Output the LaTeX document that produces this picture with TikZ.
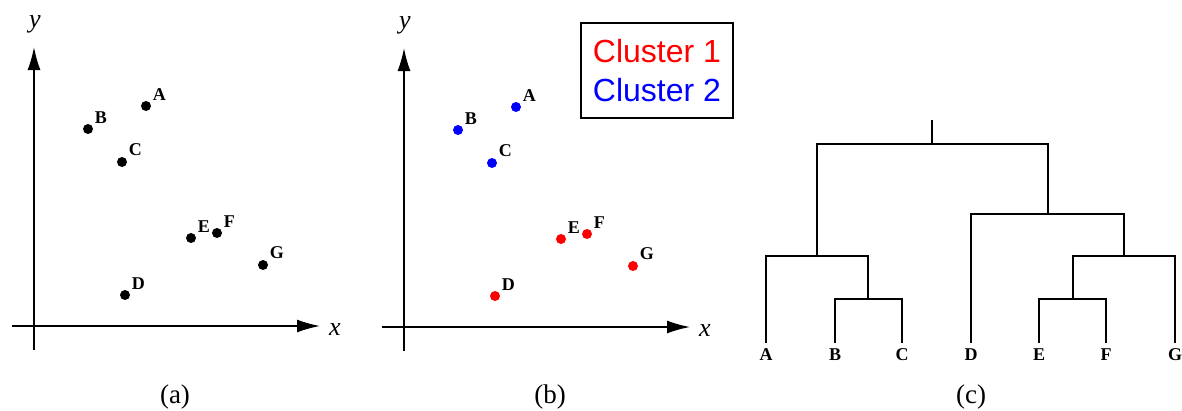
\documentclass[tikz,border=0pt]{standalone}
\usepackage{fontspec}
\setmainfont{Liberation Serif}
\newfontfamily\legendfont{Liberation Sans}
\usetikzlibrary{arrows.meta,positioning}
\newcommand{\pointlist}{A/146/106/blue,B/88/129/blue,C/122/162/blue,D/125/295/red,E/191/238/red,F/217/233/red,G/263/265/red}

\begin{document}
\begin{tikzpicture}[x=1pt,y=-1pt,>={Latex[length=23pt,width=13pt]}]
\tikzset{
  dot/.style={circle,fill=#1,inner sep=0pt,minimum size=10pt},
  ptlabel/.style={font=\fontsize{18}{18}\selectfont\bfseries,inner sep=1pt},
  axisline/.style={line width=1.6pt,->},
  axislabel/.style={font=\fontsize{26}{26}\selectfont\itshape,inner sep=0pt},
  caption/.style={font=\fontsize{27}{27}\selectfont,inner sep=0pt},
  leaf/.style={font=\fontsize{18}{18}\selectfont\bfseries,inner sep=1pt,anchor=north,text height=12pt},
  tree/.style={line width=1.6pt},
}
\useasboundingbox (0,0) rectangle (1182,410);

% (a) the raw points
\coordinate (ax0) at (12,326);
\coordinate (ax1) at (320,326);
\coordinate (ay0) at (34,350);
\coordinate (ay1) at (34,47);
\draw[axisline] (ax0) -- (ax1);
\draw[axisline] (ay0) -- (ay1);
\node[axislabel] (axl) at (335,330) {x};
\node[axislabel] (ayl) at (35,24) {y};
\foreach \n/\x/\y/\c in \pointlist {
  \node[dot=black] (a\n) at (\x,\y) {};
  \node[ptlabel,above right=1pt and 2pt of a\n] (a\n l) {\n};
}
\node[caption] (capa) at (175,397) {(a)};

% (b) the two clusters
\begin{scope}[xshift=370pt,yshift=-1pt]
\coordinate (bx0) at (12,326);
\coordinate (bx1) at (320,326);
\coordinate (by0) at (34,350);
\coordinate (by1) at (34,47);
\draw[axisline] (bx0) -- (bx1);
\draw[axisline] (by0) -- (by1);
\node[axislabel] (bxl) at (335,330) {x};
\node[axislabel] (byl) at (35,24) {y};
\foreach \n/\x/\y/\c in \pointlist {
  \node[dot=\c] (b\n) at (\x,\y) {};
  \node[ptlabel,above right=1pt and 2pt of b\n] (b\n l) {\n};
}
\end{scope}
\node[draw,line width=1.2pt,minimum width=152pt,minimum height=95pt,inner sep=0pt,
  align=left,font=\legendfont\fontsize{32}{39}\selectfont] (legend) at (657,70.5)
  {\textcolor{red}{Cluster 1}\\\textcolor{blue}{Cluster 2}};
\node[caption] (capb) at (550,397) {(b)};

% (c) the dendrogram
\foreach \n/\x in {A/766,B/835,C/902,D/971,E/1039,F/1106,G/1175} {
  \node[leaf] (l\n) at (\x,347) {\n};
  \coordinate (t\n) at ([yshift=4pt]l\n.north);
}
\coordinate (bc) at (868,299);
\coordinate (abc) at (817,256);
\coordinate (ef) at (1073,299);
\coordinate (efg) at (1124,256);
\coordinate (defg) at (1048,214);
\coordinate (root) at (932,144);
\coordinate (top) at (932,120);
\draw[tree] (tB) |- (bc) -| (tC);
\draw[tree] (tA) |- (abc) -| (bc);
\draw[tree] (tE) |- (ef) -| (tF);
\draw[tree] (ef) |- (efg) -| (tG);
\draw[tree] (tD) |- (defg) -| (efg);
\draw[tree] (abc) |- (root) -| (defg);
\draw[tree] (root) -- (top);
\node[caption] (capc) at (971,397) {(c)};
\end{tikzpicture}
\end{document}
